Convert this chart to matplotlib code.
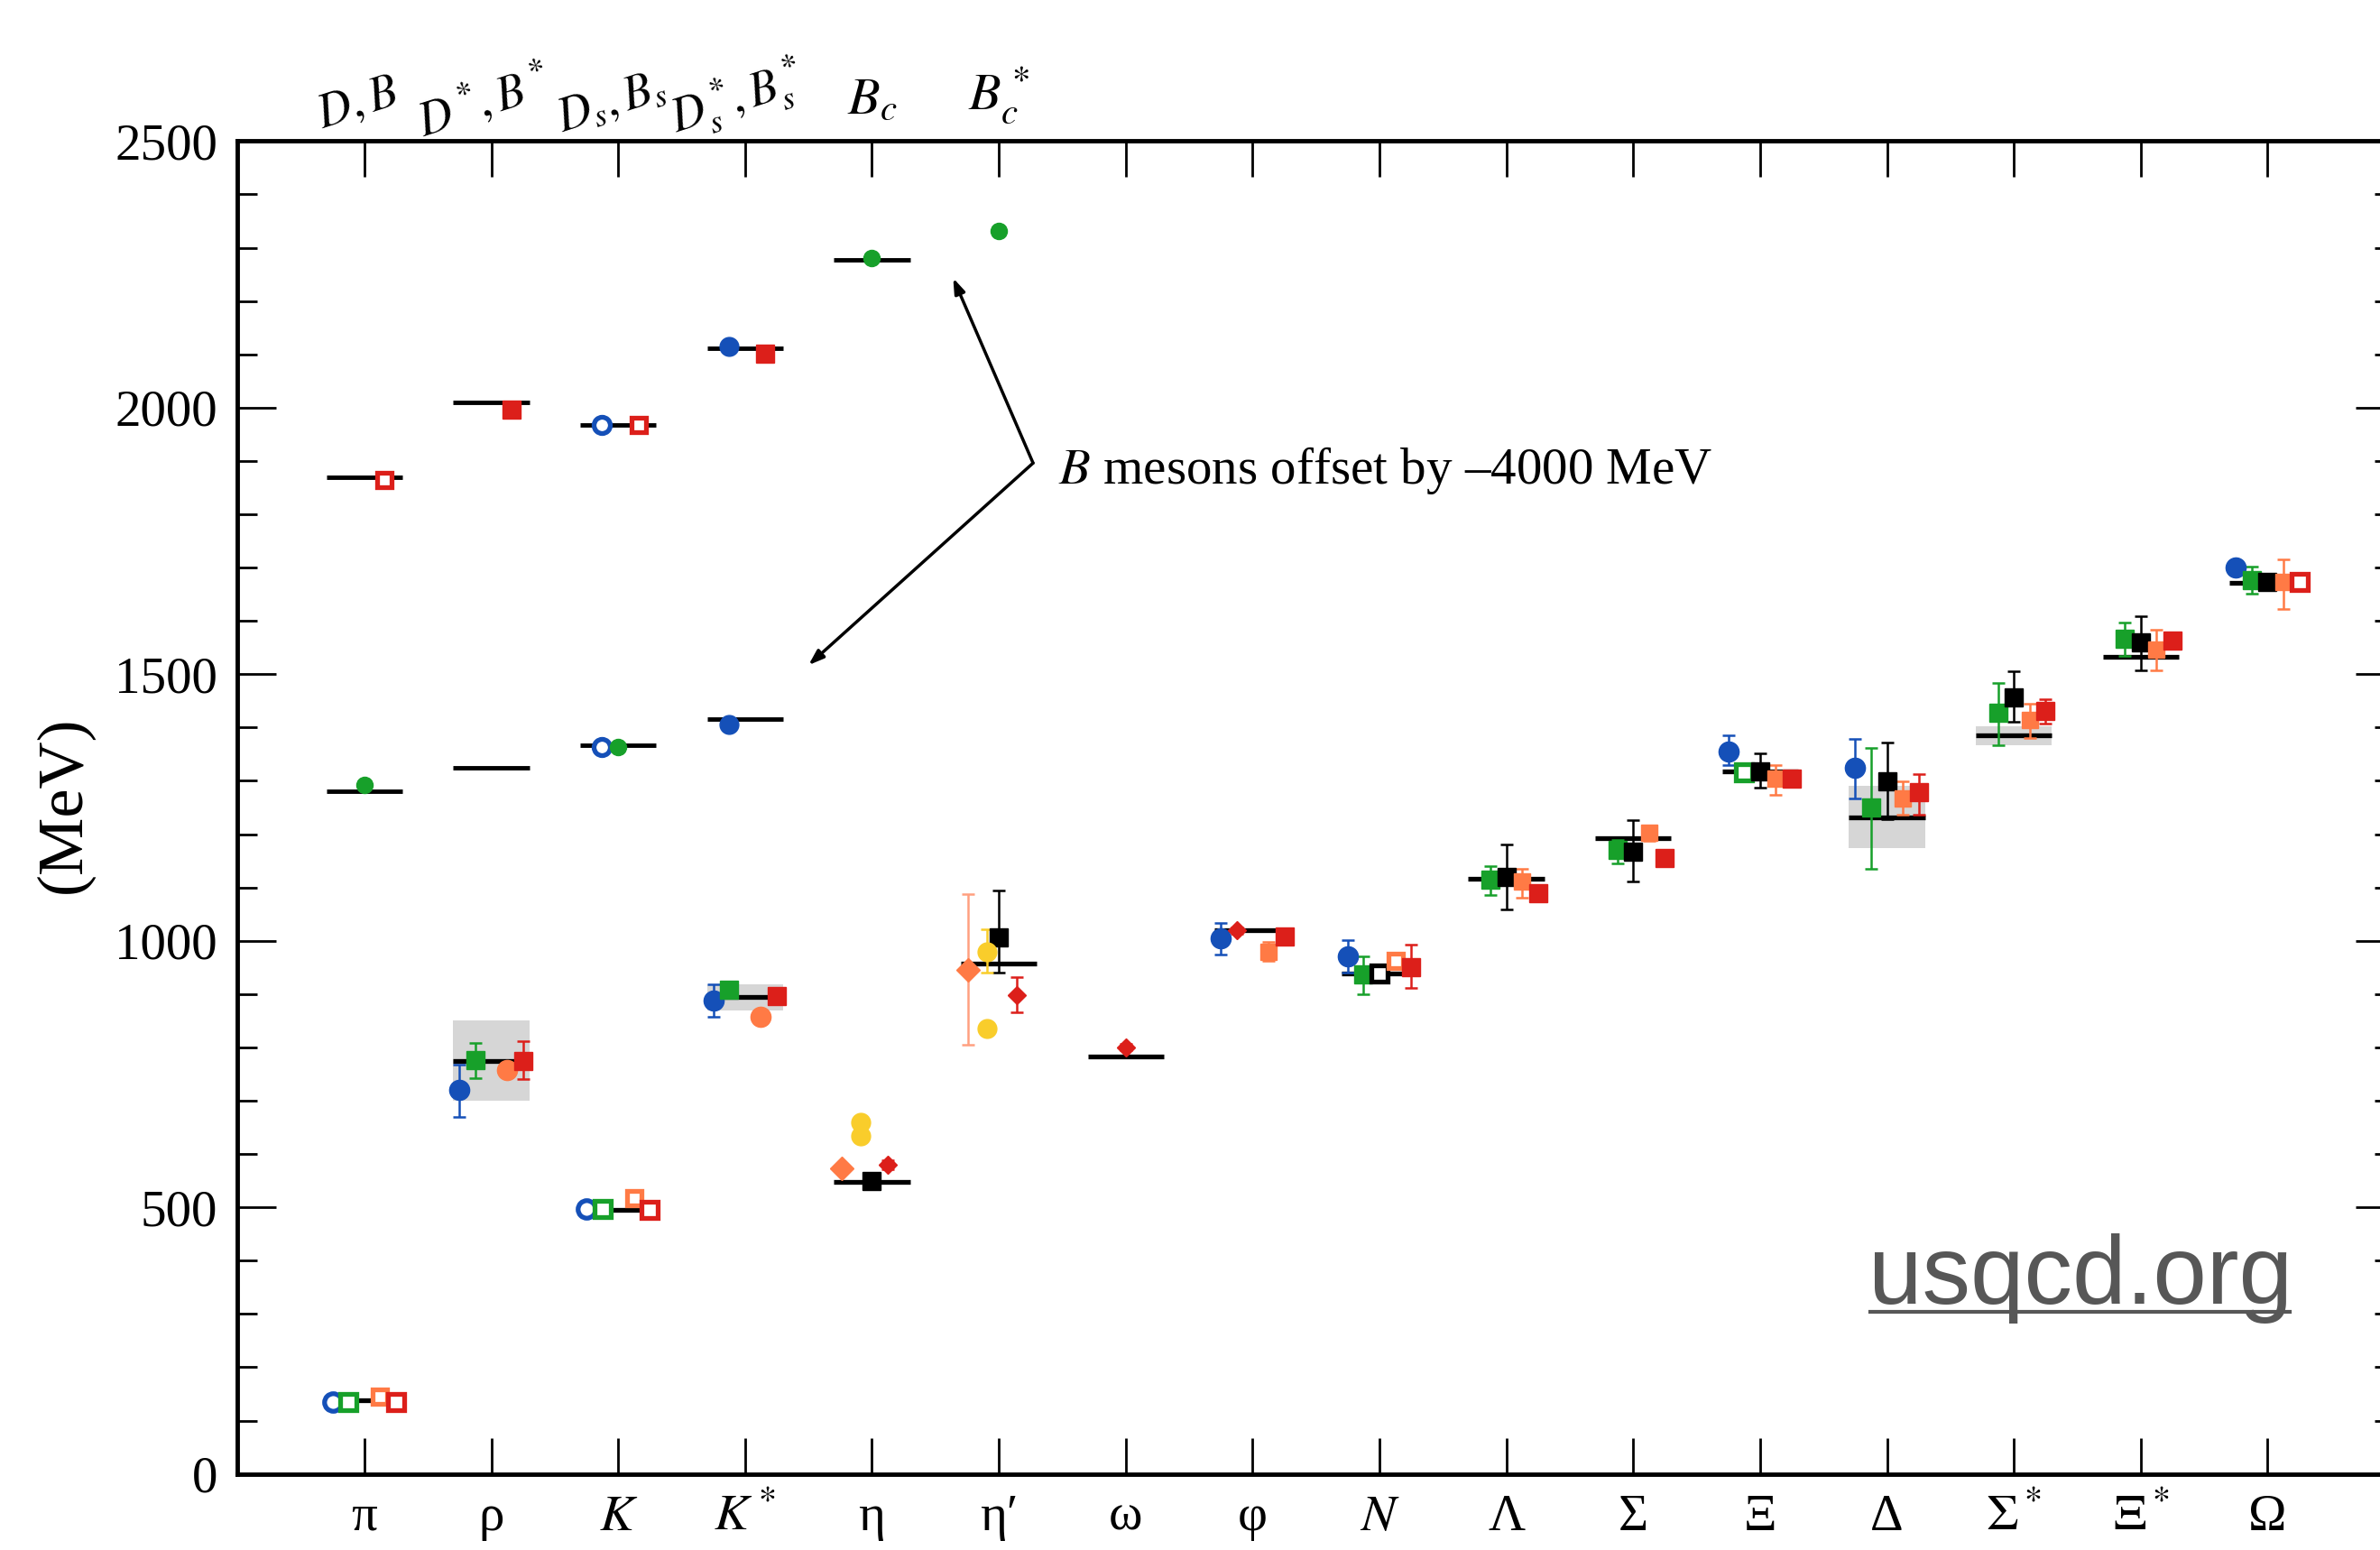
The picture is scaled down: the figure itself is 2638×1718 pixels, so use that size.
import matplotlib
matplotlib.use('Agg')
import matplotlib.pyplot as plt
from matplotlib.patches import Rectangle
from matplotlib.ticker import MultipleLocator

plt.rcParams['font.family'] = ['Liberation Serif', 'DejaVu Serif']
plt.rcParams['mathtext.fontset'] = 'stix'

# light hadrons, one column each
keys = ['pi', 'rho', 'K', 'Kst', 'eta', 'etap', 'omega', 'phi', 'N', 'Lam',
        'Sig', 'Xi', 'Del', 'Sigst', 'Xist', 'Omg']
labels = ['π', 'ρ', r'$K$', r'$K^*$', 'η', 'η′', 'ω', 'φ', r'$N$', 'Λ', 'Σ',
          'Ξ', 'Δ', r'$\Sigma^*$', r'$\Xi^*$', 'Ω']
expt = [138, 775, 495, 894, 548, 958, 783, 1019, 939, 1116, 1193, 1318, 1232,
        1385, 1533, 1672]

# resonances drawn with a grey band (half width in MeV)
res_keys = ['rho', 'Kst', 'Del', 'Sigst']
res_halfwidth = [75, 25, 58.5, 18]

# lattice results per group (0 error = no bar, input = open symbol)
blue_keys = ['pi', 'rho', 'K', 'Kst', 'phi', 'N', 'Xi', 'Del', 'Omg']
blue_val = [135, 721, 497, 888, 1004, 971, 1355, 1324, 1700]
blue_lo = [0, 51, 0, 31, 30, 31, 26, 57, 0]
blue_hi = [0, 47, 0, 31, 29, 31, 31, 54, 0]
blue_input = [1, 0, 1, 0, 0, 0, 0, 0, 0]

green_keys = ['pi', 'rho', 'K', 'Kst', 'N', 'Lam', 'Sig', 'Xi', 'Del', 'Sigst',
              'Xist', 'Omg']
green_val = [135, 776, 497, 908, 937, 1115, 1171, 1316, 1250, 1428, 1566, 1676]
green_lo = [0, 34, 0, 0, 37, 29, 26, 0, 115, 62, 31, 25]
green_hi = [0, 33, 0, 0, 33, 25, 18, 0, 111, 56, 31, 26]
green_input = [1, 0, 1, 0, 0, 0, 0, 1, 0, 0, 0, 0]

black_keys = ['eta', 'etap', 'N', 'Lam', 'Sig', 'Xi', 'Del', 'Sigst', 'Xist', 'Omg']
black_val = [550, 1006, 938, 1120, 1167, 1318, 1299, 1457, 1559, 1673]
black_lo = [0, 66, 0, 61, 56, 31, 71, 47, 51, 0]
black_hi = [0, 89, 0, 61, 59, 34, 72, 49, 50, 0]
black_input = [0, 0, 1, 0, 0, 0, 0, 0, 0, 0]

orange_keys = ['pi', 'K', 'phi', 'N', 'Lam', 'Sig', 'Xi', 'Del', 'Sigst', 'Xist', 'Omg']
orange_val = [145, 517, 979, 962, 1112, 1202, 1304, 1267, 1414, 1546, 1673]
orange_lo = [0, 0, 16, 0, 31, 15, 31, 31, 34, 39, 50]
orange_hi = [0, 0, 18, 0, 23, 11, 25, 32, 31, 37, 43]
orange_input = [1, 1, 0, 1, 0, 0, 0, 0, 0, 0, 0]

orange_c_keys = ['rho', 'Kst']
orange_c_val = [758, 858]

red_keys = ['pi', 'rho', 'K', 'Kst', 'phi', 'N', 'Lam', 'Sig', 'Xi', 'Del',
            'Sigst', 'Xist', 'Omg']
red_val = [135, 775, 496, 896, 1008, 951, 1089, 1155, 1304, 1278, 1431, 1563, 1673]
red_lo = [0, 35, 0, 0, 0, 39, 0, 0, 0, 42, 23, 0, 0]
red_hi = [0, 36, 0, 0, 0, 41, 0, 0, 0, 34, 22, 0, 0]
red_input = [1, 0, 1, 0, 0, 0, 0, 0, 0, 0, 0, 0, 1]

rdia_keys = ['eta', 'etap', 'omega', 'phi']
rdia_val = [580, 898, 800, 1019]
rdia_err = [9, 33, 6, 6]
rdia_shift = [0.125, 0.14, 0.0, -0.12]

odia_keys = ['eta', 'etap']
odia_val = [573, 946]
odia_lo = [0, 141]
odia_hi = [0, 142]

yel_keys = ['eta', 'eta', 'etap', 'etap']
yel_val = [660, 634, 979, 836]
yel_lo = [0, 0, 39, 0]
yel_hi = [0, 0, 42, 0]

# heavy-light mesons, drawn in the first six columns
heavy_labels = [r'$D,B$', r'$D^*\!,B^*$', r'$D_s,B_s$', r'$D_s^*\!,B_s^*$',
                r'$B_c$', r'$B_c^*$']
d_expt = [1869, 2010, 1968, 2112]
B_OFFSET = 4000
b_expt = [5280, 5325, 5367, 5415, 6277]

d_blue_col = [2, 3]
d_blue_val = [1967, 2115]
d_blue_input = [1, 0]
d_red_col = [0, 1, 2, 3]
d_red_val = [1865, 1996, 1967, 2101]
d_red_input = [1, 0, 1, 0]
b_blue_col = [2, 3]
b_blue_val = [5364, 5406]
b_blue_input = [1, 0]
b_green_col = [0, 2, 4, 5]
b_green_val = [5293, 5364, 6280, 6332]
b_green_input = [0, 0, 0, 0]

BLUE = '#1550b8'
GREEN = '#17a02a'
ORANGE = '#ff7a45'
RED = '#dc1f1a'
YELLOW = '#f9cd2b'
GREY = '#d6d6d6'

pos = {k: i + 1 for i, k in enumerate(keys)}

fig = plt.figure(figsize=(26.38, 17.18), dpi=100)
ax = fig.add_axes([0.0998, 0.0491, 0.9063, 0.8599])


def draw(xs, vals, lo, hi, inputs, color, marker, ms=15, ecolor=None):
    ecolor = ecolor or color
    bx = [x for x, l, h in zip(xs, lo, hi) if l or h]
    by = [v for v, l, h in zip(vals, lo, hi) if l or h]
    bl = [l for l, h in zip(lo, hi) if l or h]
    bh = [h for l, h in zip(lo, hi) if l or h]
    if bx:
        ax.errorbar(bx, by, yerr=[bl, bh], fmt='none', ecolor=ecolor,
                    elinewidth=1.8, capsize=5, capthick=1.8, zorder=3)
    for x, v, inp in zip(xs, vals, inputs):
        if inp:
            ax.plot(x, v, marker=marker, ms=ms - 2, mfc='white', mec=color,
                    mew=3.8, zorder=4)
        else:
            ax.plot(x, v, marker=marker, ms=ms, mfc=color, mec=color, zorder=4)


# grey bands and experimental lines
for k, w in zip(res_keys, res_halfwidth):
    ax.add_patch(Rectangle((pos[k] - 0.3, expt[keys.index(k)] - w), 0.6, 2 * w,
                           color=GREY, lw=0, zorder=1))
ax.hlines(expt, [p - 0.3 for p in range(1, 17)], [p + 0.3 for p in range(1, 17)],
          color='black', lw=3.8, zorder=2)
ax.hlines(d_expt, [c + 1 - 0.3 for c in range(4)], [c + 1 + 0.3 for c in range(4)],
          color='black', lw=3.5, zorder=2)
ax.hlines([m - B_OFFSET for m in b_expt], [c + 1 - 0.3 for c in range(5)],
          [c + 1 + 0.3 for c in range(5)], color='black', lw=3.5, zorder=2)

n = len
draw([pos[k] - 0.25 for k in blue_keys], blue_val, blue_lo, blue_hi, blue_input, BLUE, 'o', ms=16)
draw([pos[k] - 0.125 for k in green_keys], green_val, green_lo, green_hi, green_input, GREEN, 's')
draw([pos[k] for k in black_keys], black_val, black_lo, black_hi, black_input, 'black', 's')
draw([pos[k] + 0.125 for k in orange_keys], orange_val, orange_lo, orange_hi, orange_input,
     ORANGE, 's', ms=13)
draw([pos[k] + 0.125 for k in orange_c_keys], orange_c_val, [0] * 2, [0] * 2, [0] * 2,
     ORANGE, 'o', ms=16)
draw([pos[k] + 0.25 for k in red_keys], red_val, red_lo, red_hi, red_input, RED, 's')
draw([pos[k] + s for k, s in zip(rdia_keys, rdia_shift)], rdia_val, rdia_err, rdia_err,
     [0] * n(rdia_keys), RED, 'D', ms=10)
draw([pos[k] - 0.24 for k in odia_keys], odia_val, odia_lo, odia_hi, [0] * 2,
     ORANGE, 'D', ms=13, ecolor='#ffa080')
draw([pos[k] - 0.09 for k in yel_keys], yel_val, yel_lo, yel_hi, [0] * 4, YELLOW, 'o')

draw([c + 1 - 0.13 for c in d_blue_col], d_blue_val, [0] * 2, [0] * 2, d_blue_input, BLUE, 'o')
draw([c + 1 + 0.16 for c in d_red_col], d_red_val, [0] * 4, [0] * 4, d_red_input, RED, 's', ms=14)
draw([c + 1 - 0.13 for c in b_blue_col], [m - B_OFFSET for m in b_blue_val], [0] * 2,
     [0] * 2, b_blue_input, BLUE, 'o')
draw([c + 1 for c in b_green_col], [m - B_OFFSET for m in b_green_val], [0] * 4, [0] * 4,
     b_green_input, GREEN, 'o', ms=13)

ax.set_xlim(0, 17)
ax.set_ylim(0, 2500)
ax.set_xticks(range(1, 17))
ax.set_xticklabels(labels, fontsize=41)
ax.yaxis.set_major_locator(MultipleLocator(500))
ax.yaxis.set_minor_locator(MultipleLocator(100))
ax.tick_params(axis='y', which='major', direction='in', length=31, width=2,
               labelsize=41, pad=16, right=True)
ax.tick_params(axis='y', which='minor', direction='in', length=16, width=2, right=True)
ax.tick_params(axis='x', which='major', direction='in', length=29, width=2,
               pad=16, top=True)
for s in ax.spines.values():
    s.set_linewidth(3.5)

for c, lab in enumerate(heavy_labels):
    rot = 18 if c < 4 else 0
    size = 38 if c < 4 else 42
    ax.text(c + 1, 2530, lab, fontsize=size, rotation=rot, ha='center', va='bottom',
            rotation_mode='anchor')

ax.annotate('', xy=(5.64, 2243), xytext=(6.27, 1896),
            arrowprops=dict(arrowstyle='-|>,head_length=1.0,head_width=0.35',
                            lw=2.5, color='black', shrinkA=0, shrinkB=0))
ax.annotate('', xy=(4.5, 1517), xytext=(6.27, 1896),
            arrowprops=dict(arrowstyle='-|>,head_length=1.0,head_width=0.35',
                            lw=2.5, color='black', shrinkA=0, shrinkB=0))
ax.text(6.47, 1882, r'$B$ mesons offset by –4000 MeV', fontsize=41, va='center')

fig.text(0.027, 0.481, '(MeV)', rotation=90, fontsize=52, ha='center', va='center')

fig.text(0.785, 0.159, 'usqcd.org', fontsize=77, color='#575757',
         family=['Liberation Sans', 'DejaVu Sans'], va='baseline')
fig.add_artist(plt.Line2D([0.786, 0.962], [0.1535, 0.1535], color='#575757', lw=3,
                          transform=fig.transFigure))

fig.savefig('out.png', dpi=100)
